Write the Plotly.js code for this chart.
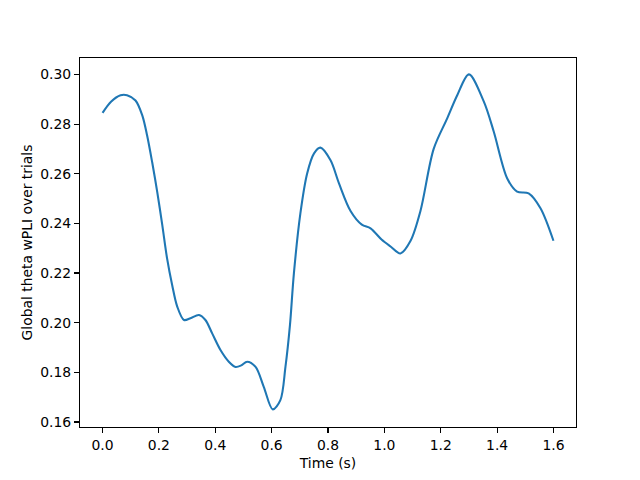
<!DOCTYPE html>
<html>
<head>
<meta charset="utf-8">
<script src="https://cdn.plot.ly/plotly-3.0.1.min.js"></script>
<style>html,body{margin:0;padding:0;background:#fff;}#plot{width:640px;height:480px;}</style>
</head>
<body>
<div id="plot"></div>
<script>
const time = [0.00, 0.03, 0.064, 0.087, 0.117, 0.141, 0.158, 0.176, 0.194, 0.212, 0.229, 0.247, 0.265, 0.289, 0.312, 0.342, 0.365, 0.389, 0.419, 0.448, 0.472, 0.492, 0.513, 0.543, 0.572, 0.604, 0.631, 0.649, 0.665, 0.679, 0.702, 0.726, 0.750, 0.773, 0.809, 0.839, 0.88, 0.92, 0.951, 0.99, 1.022, 1.057, 1.093, 1.128, 1.175, 1.223, 1.259, 1.30, 1.353, 1.388, 1.436, 1.471, 1.512, 1.554, 1.60];
const wpli = [0.2845, 0.2890, 0.2916, 0.2916, 0.2895, 0.2835, 0.2755, 0.2647, 0.2527, 0.2393, 0.2259, 0.2152, 0.2065, 0.2011, 0.2018, 0.2031, 0.2011, 0.1957, 0.1889, 0.1843, 0.1822, 0.1828, 0.1843, 0.1822, 0.1742, 0.1651, 0.1688, 0.1822, 0.1990, 0.2199, 0.2440, 0.2601, 0.2681, 0.2705, 0.2654, 0.2561, 0.2450, 0.2395, 0.2380, 0.2335, 0.2307, 0.2279, 0.2330, 0.2450, 0.2700, 0.2823, 0.2917, 0.3000, 0.2890, 0.2770, 0.2581, 0.2528, 0.2521, 0.2461, 0.2330];

const tickFont = {family: 'DejaVu Sans', size: 13.9, color: '#000'};
Plotly.newPlot('plot', [{
  x: time, y: wpli, type: 'scatter', mode: 'lines',
  line: {color: '#1f77b4', width: 2.08, shape: 'spline', smoothing: 0.9}
}], {
  width: 640, height: 480,
  margin: {l: 80, r: 64, t: 58, b: 53},
  paper_bgcolor: '#fff', plot_bgcolor: '#fff',
  showlegend: false,
  xaxis: {
    range: [-0.08, 1.68], tickvals: [0, 0.2, 0.4, 0.6, 0.8, 1.0, 1.2, 1.4, 1.6],
    ticktext: ['0.0','0.2','0.4','0.6','0.8','1.0','1.2','1.4','1.6'],
    ticks: 'outside', ticklen: 4.9, tickwidth: 1.1, tickcolor: '#000',
    showline: true, linecolor: '#000', linewidth: 1.1, mirror: true,
    showgrid: false, zeroline: false, tickfont: tickFont,
    title: {text: 'Time (s)', font: tickFont, standoff: 6}
  },
  yaxis: {
    range: [0.1580, 0.3066], tickvals: [0.16, 0.18, 0.20, 0.22, 0.24, 0.26, 0.28, 0.30],
    ticktext: ['0.16','0.18','0.20','0.22','0.24','0.26','0.28','0.30'],
    ticks: 'outside', ticklen: 4.9, tickwidth: 1.1, tickcolor: '#000',
    showline: true, linecolor: '#000', linewidth: 1.1, mirror: true,
    showgrid: false, zeroline: false, tickfont: tickFont,
    title: {text: 'Global theta wPLI over trials', font: tickFont, standoff: 4}
  }
}, {staticPlot: true, displayModeBar: false});
</script>
</body>
</html>
